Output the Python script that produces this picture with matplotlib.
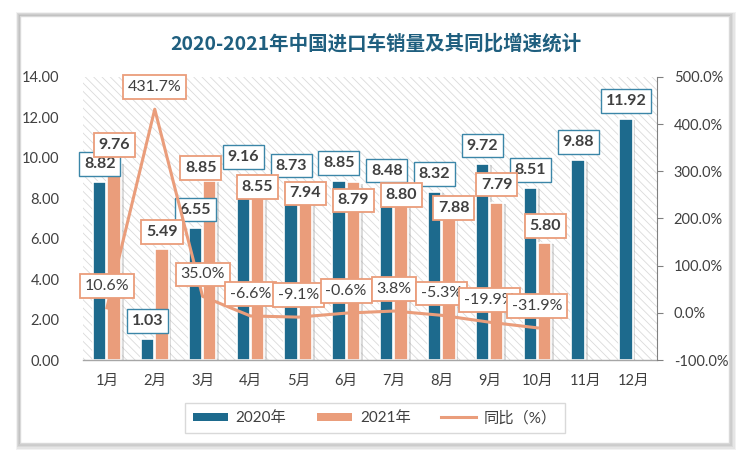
import matplotlib
matplotlib.use("Agg")
import matplotlib.pyplot as plt
import matplotlib.patheffects as pe
from matplotlib.patches import Rectangle, Patch
from matplotlib.lines import Line2D
from matplotlib.ticker import FormatStrFormatter
import numpy as np

plt.rcParams['font.family'] = ['Lato', 'Noto Sans CJK SC', 'DejaVu Sans']
plt.rcParams['hatch.linewidth'] = 0.6

# data (万辆 / %)
months = ['1月', '2月', '3月', '4月', '5月', '6月', '7月', '8月', '9月', '10月', '11月', '12月']
sales_2020 = [8.82, 1.03, 6.55, 9.16, 8.73, 8.85, 8.48, 8.32, 9.72, 8.51, 9.88, 11.92]
sales_2021 = [9.76, 5.49, 8.85, 8.55, 7.94, 8.79, 8.80, 7.88, 7.79, 5.80]
yoy = [10.6, 431.7, 35.0, -6.6, -9.1, -0.6, 3.8, -5.3, -19.9, -31.9]

BLUE = '#1D6A8D'
SALMON = '#EA9D7B'
TXT = '#404040'

# label nudges for the 2021 bars (pixels), hand placed like the original
nudge_2021 = [(0, 18), (0, 17), (-9, 13), (0, 0), (0, 6), (0, -18), (0, -13), (5, -7), (0, 18), (1, 17)]

fig = plt.figure(figsize=(7.5, 4.61), dpi=100)
fig.patch.set_facecolor('white')

# card with soft shadow
W, H = 750.0, 461.0
for k, a in enumerate([0.05, 0.05, 0.05, 0.06, 0.07]):
    g = 7 - k * 1.4
    fig.patches.append(Rectangle(((20 - g * 0.6) / W, (H - 443 - g) / H), (709 + g * 1.6) / W, (427 + g * 1.6) / H,
                                 transform=fig.transFigure, facecolor='#000000', alpha=a,
                                 edgecolor='none', zorder=0))
fig.patches.append(Rectangle((20 / W, (H - 443) / H), 709 / W, 427 / H, transform=fig.transFigure,
                             facecolor='white', edgecolor='#d9d9d9', linewidth=1.0, zorder=1))

ax = fig.add_axes([83 / W, (H - 360) / H, 574 / W, 283 / H])
ax.set_zorder(2)
ax.patch.set_visible(False)
ax.add_patch(Rectangle((0, 0), 1, 1, transform=ax.transAxes, facecolor='white',
                       edgecolor='#dadada', hatch='\\\\\\\\', linewidth=0, zorder=0))

x = np.arange(len(months))
w = 0.28
shadow = [pe.SimplePatchShadow(offset=(2, -1), shadow_rgbFace='#999999', alpha=0.35), pe.Normal()]
b1 = ax.bar(x - 0.15, sales_2020, w, color=BLUE, edgecolor='white', linewidth=1.2, zorder=2)
b2 = ax.bar(x[:len(sales_2021)] + 0.15, sales_2021, w, color=SALMON, edgecolor='white', linewidth=1.2, zorder=2)
for r in list(b1) + list(b2):
    r.set_path_effects(shadow)

ax.set_xlim(-0.5, 11.5)
ax.set_ylim(0, 14)
ax.set_yticks(np.arange(0, 15, 2))
ax.yaxis.set_major_formatter(FormatStrFormatter('%.2f'))
ax.set_xticks(x)
ax.set_xticklabels(months)
ax.tick_params(axis='both', length=0, labelsize=10.5, colors=TXT, pad=10)
ax.tick_params(axis='y', pad=17)
for s in ['top', 'left', 'right']:
    ax.spines[s].set_visible(False)
ax.spines['bottom'].set_color('#a6a6a6')
ax.spines['bottom'].set_linewidth(1.0)

for xi, v in zip(x, sales_2020):
    ax.annotate('%.2f' % v, (xi - 0.15, v), xytext=(0, 18), textcoords='offset pixels',
                ha='center', va='center', fontsize=11.5, fontweight='bold', color=TXT, zorder=5,
                bbox=dict(boxstyle='square,pad=0.3', fc='white', ec='#3B86A8', lw=1.0))
for xi, v, d in zip(x, sales_2021, nudge_2021):
    ax.annotate('%.2f' % v, (xi + 0.15, v), xytext=d, textcoords='offset pixels',
                ha='center', va='center', fontsize=11.5, fontweight='bold', color=TXT, zorder=5,
                bbox=dict(boxstyle='square,pad=0.3', fc='white', ec=SALMON, lw=1.3))

ax2 = ax.twinx()
ax2.set_zorder(3)
ax2.plot(x[:len(yoy)], yoy, color=SALMON, linewidth=2.2, zorder=3)
ax2.set_ylim(-100, 500)
ax2.set_yticks(np.arange(-100, 501, 100))
ax2.yaxis.set_major_formatter(FormatStrFormatter('%.1f%%'))
ax2.tick_params(axis='y', length=4, direction='out', color='#808080', labelsize=10.5, colors=TXT, pad=8)
ax2.tick_params(axis='y', color='#808080')
for s in ['top', 'left', 'bottom']:
    ax2.spines[s].set_visible(False)
ax2.spines['right'].set_color('#808080')
for xi, p in zip(x, yoy):
    ax2.annotate('%.1f%%' % p, (xi, p), xytext=(0, 22), textcoords='offset pixels',
                 ha='center', va='center', fontsize=11.5, color=TXT, zorder=6,
                 bbox=dict(boxstyle='square,pad=0.3', fc='white', ec=SALMON, lw=1.3))

fig.text(376 / W, 1 - 44 / H, '2020-2021年中国进口车销量及其同比增速统计', ha='center', va='center',
         fontsize=14, fontweight='bold', color='#1F5F7F', family=['Noto Sans CJK SC', 'DejaVu Sans'])

handles = [Patch(facecolor=BLUE, edgecolor='none'), Patch(facecolor=SALMON, edgecolor='none'),
           Line2D([0], [0], color=SALMON, linewidth=2.2)]
leg = fig.legend(handles, ['2020年', '2021年', '同比（%）'], loc='center', bbox_to_anchor=(375 / W, 1 - 418 / H),
                 ncol=3, frameon=True, fancybox=False, fontsize=11, handlelength=2.3, handleheight=0.5,
                 columnspacing=2.0, borderpad=0.5, handletextpad=0.5)
leg.get_frame().set_edgecolor('#d0d0d0')
leg.get_frame().set_linewidth(1.0)
for t in leg.get_texts():
    t.set_color(TXT)

fig.savefig('out.png', dpi=100, facecolor='white')
